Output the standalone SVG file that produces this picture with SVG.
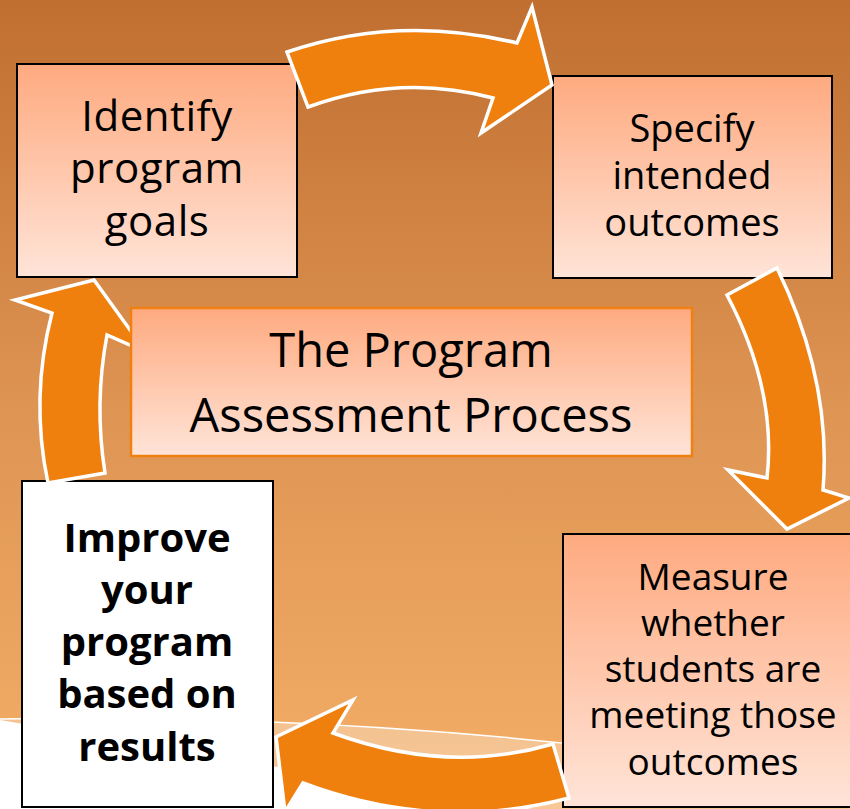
<svg xmlns="http://www.w3.org/2000/svg" width="850" height="809" viewBox="0 0 850 809">
<style>
.box{stroke:#000;stroke-width:2}
.arrow{fill:#F0800E;stroke:#fff;stroke-width:3.5;stroke-linejoin:miter}
.t{font-family:"Open Sans","Liberation Sans",sans-serif;fill:#000;text-anchor:middle}
</style>
<defs>
<linearGradient id="bg" x1="0" y1="0" x2="0" y2="1">
<stop offset="0" stop-color="#C06F30"/>
<stop offset="0.5" stop-color="#DE9453"/>
<stop offset="1" stop-color="#F4AF67"/>
</linearGradient>
<linearGradient id="pf" x1="0" y1="0" x2="0" y2="1">
<stop offset="0" stop-color="#FEAA7F"/>
<stop offset="1" stop-color="#FFE4D8"/>
</linearGradient>
</defs>
<rect x="0" y="0" width="850" height="809" fill="url(#bg)"/>
<path d="M0,719 Q425,711 850,782 L850,809 L0,809 Z" fill="#fff" fill-opacity="0.3"/>
<path d="M0,720 Q280,768 600,820 L0,820 Z" fill="#fff"/>
<path d="M0,719 Q425,711 850,782" fill="none" stroke="#fff" stroke-width="1.5"/>

<g id="node-identify">
<rect class="box" x="17" y="64" width="280" height="213" fill="url(#pf)"/>
<text class="t" x="157" y="131" font-size="42" letter-spacing="0.5">Identify</text>
<text class="t" x="157" y="183" font-size="42" letter-spacing="0.5">program</text>
<text class="t" x="157" y="236" font-size="42" letter-spacing="0.5">goals</text>
</g>
<g id="node-specify">
<rect class="box" x="553" y="76" width="279" height="202" fill="url(#pf)"/>
<text class="t" x="692" y="142" font-size="38">Specify</text>
<text class="t" x="692" y="189" font-size="38">intended</text>
<text class="t" x="692" y="236" font-size="38">outcomes</text>
</g>
<g id="node-measure">
<rect class="box" x="563" y="534" width="300" height="273" fill="url(#pf)"/>
<text class="t" x="713" y="590" font-size="37">Measure</text>
<text class="t" x="713" y="636" font-size="37">whether</text>
<text class="t" x="713" y="682" font-size="37">students are</text>
<text class="t" x="713" y="728" font-size="37">meeting those</text>
<text class="t" x="713" y="775" font-size="37">outcomes</text>
</g>
<g id="node-improve">
<rect class="box" x="22" y="481" width="251" height="326" fill="#fff"/>
<text class="t" x="147" y="552" font-size="40" font-weight="bold">Improve</text>
<text class="t" x="147" y="604" font-size="40" font-weight="bold">your</text>
<text class="t" x="147" y="656" font-size="40" font-weight="bold">program</text>
<text class="t" x="147" y="708" font-size="40" font-weight="bold">based on</text>
<text class="t" x="147" y="761" font-size="40" font-weight="bold">results</text>
</g>

<g id="connectors">
<path class="arrow" d="M287,52 Q398,14 517,43 L532,7 L552,85 L481,133 L493,98 Q400,73 308,107 Z"/>
<path class="arrow" d="M727,295 L777,268 Q832,381 823,490 L849,498 L787,529 L728,470 L767,478 Q777,390 727,295 Z"/>
<path class="arrow" d="M553,744 Q447,775 333,733 L353,700 L276,737 L285,812 L303,783 Q436,833 569,798 Z"/>
<path class="arrow" d="M48,483 Q30,398 52,313 L15,300 L94,280 L146,352 L107,335 Q94,404 105,473 Z"/>
</g>

<g id="node-center">
<rect x="131" y="308" width="561" height="148" fill="url(#pf)" stroke="#F08010" stroke-width="2.5"/>
<text class="t" x="411" y="367" font-size="47">The Program</text>
<text class="t" x="411" y="432" font-size="47">Assessment Process</text>
</g>
</svg>
